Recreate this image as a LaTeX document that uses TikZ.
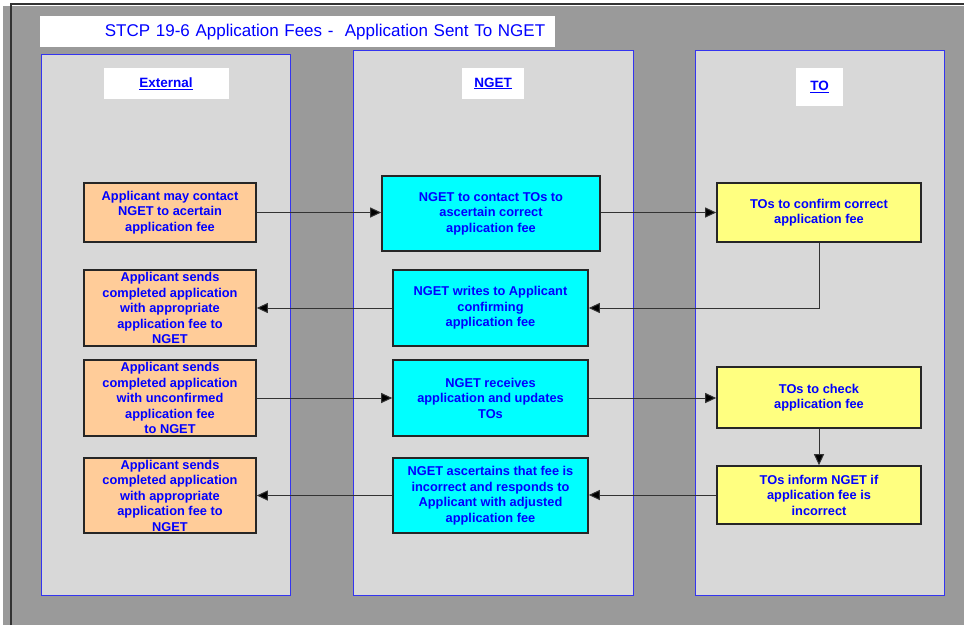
\documentclass[tikz,border=0pt]{standalone}
\usepackage{fontspec}
\setmainfont{Liberation Sans}
\usetikzlibrary{positioning,arrows.meta}
\definecolor{backgrey}{HTML}{9A9A9A}
\definecolor{framegrey}{HTML}{333333}
\definecolor{lanegrey}{HTML}{D8D8D8}
\definecolor{laneblue}{HTML}{3434F0}
\definecolor{extorange}{HTML}{FFCC99}
\definecolor{ngetcyan}{HTML}{00FFFF}
\definecolor{toyellow}{HTML}{FFFF80}
\definecolor{textblue}{HTML}{0000FF}
\tikzset{
	lane/.style = {draw=laneblue, fill=lanegrey, line width=1.2pt, anchor=north west, inner sep=0},
	lanelabel/.style = {fill=white, text=textblue, inner sep=0,
		font=\fontsize{13.5}{15}\selectfont\bfseries},
	stepbox/.style = {draw=black!85, line width=1.6pt, text=textblue, align=center, inner sep=0,
		font=\fontsize{12.8}{15.5}\selectfont\bfseries},
	extbox/.style = {stepbox, fill=extorange, minimum width=172},
	ngetbox/.style = {stepbox, fill=ngetcyan, minimum width=195, minimum height=76},
	tobox/.style = {stepbox, fill=toyellow, minimum width=204},
	flow/.style = {draw=black!80, line width=1pt, -{Triangle[length=11,width=10,fill=black]}}
}

\begin{document}
\begin{tikzpicture}[x=1pt, y=-1pt]

\useasboundingbox (0,0) rectangle (964,625);
\fill[white] (0,0) rectangle (964,625);
\fill[backgrey] (3,6) rectangle (964,625);
\draw[framegrey, line width=2pt] (11,625) -- (11,4) -- (964,4);

% TITLE
\node (title) [fill=white, anchor=north west, minimum height=31, text width=495, inner xsep=10,
	align=right, text=textblue, font=\fontsize{17}{20}\selectfont] at (40,16)
	{STCP 19-6 Application Fees -\ \ Application Sent To NGET};

% LANES
\node (extlane) [lane, minimum width=249, minimum height=541] at (41,54) {};
\node (ngetlane) [lane, minimum width=280, minimum height=545] at (353,50) {};
\node (tolane) [lane, minimum width=249, minimum height=545] at (695,50) {};

\node (extlabel) [lanelabel, minimum width=125, minimum height=31] at (166,83.5) {\underline{External}};
\node (ngetlabel) [lanelabel, minimum width=62, minimum height=31] at (493,83.5) {\underline{NGET}};
\node (tolabel) [lanelabel, minimum width=47, minimum height=38] at (819.5,87) {\underline{TO}};

% NODES

% external
\node (ext1) [extbox, minimum height=59] at (170,212.5) {Applicant may contact\\NGET to acertain\\application fee};
\node (ext2) [extbox, minimum height=76] at (170,308) {Applicant sends\\completed application\\with appropriate\\application fee to\\NGET};
\node (ext3) [extbox, minimum height=76] at (170,398) {Applicant sends\\completed application\\with unconfirmed\\application fee\\to NGET};
\node (ext4) [extbox, minimum height=75] at (170,495.5) {Applicant sends\\completed application\\with appropriate\\application fee to\\NGET};

% nget
\node (nget1) [ngetbox, minimum width=218, minimum height=75] at (491,213.5) {NGET to contact TOs to\\ascertain correct\\application fee};
\node (nget2) [ngetbox] at (490.5,308) {NGET writes to Applicant\\confirming\\application fee};
\node (nget3) [ngetbox] at (490.5,398) {NGET receives\\application and updates\\TOs};
\node (nget4) [ngetbox, minimum height=75] at (490.5,495.5) {NGET ascertains that fee is\\incorrect and responds to\\Applicant with adjusted\\application fee};

% to
\node (to1) [tobox, minimum height=59] at (819,212.5) {TOs to confirm correct\\application fee};
\node (to2) [tobox, minimum height=61] at (819,397.5) {TOs to check\\application fee};
\node (to3) [tobox, minimum height=58] at (819,495) {TOs inform NGET if\\application fee is\\incorrect};

%CONNECTIONS
\draw [flow] (ext1.east) -- (ext1.east -| nget1.west);
\draw [flow] (nget1.east |- ext1.east) -- (to1.west);
\draw [flow] (to1.south) |- (nget2.east);
\draw [flow] (nget2.west) -- (ext2.east);
\draw [flow] (ext3.east) -- (nget3.west);
\draw [flow] (nget3.east) -- (nget3.east -| to2.west);
\draw [flow] (to2.south) -- (to3.north);
\draw [flow] (to3.west) -- (to3.west -| nget4.east);
\draw [flow] (nget4.west) -- (ext4.east);

\end{tikzpicture}
\end{document}
